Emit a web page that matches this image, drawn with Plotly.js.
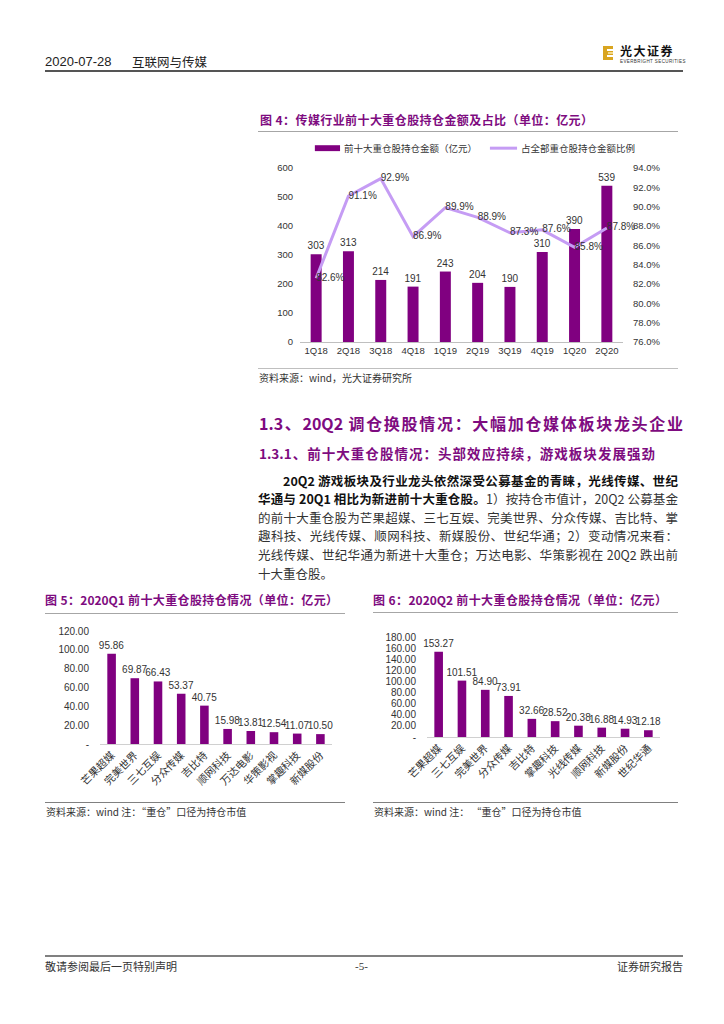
<!DOCTYPE html>
<html><head><meta charset="utf-8">
<script src="https://cdn.plot.ly/plotly-3.0.1.min.js"></script>
<style>
html,body{margin:0;padding:0;background:#fff;}
body{width:724px;height:1024px;position:relative;overflow:hidden;font-family:"Noto Sans CJK SC","Liberation Sans",sans-serif;color:#222;}
.a{position:absolute;white-space:nowrap;}
.j{text-align:justify;text-align-last:justify;}
.hl{position:absolute;}
.ftitle{font-size:12px;font-weight:bold;color:#7e0b80;line-height:12.5px;}
.src{font-size:10px;color:#333;line-height:10px;}
.para{position:absolute;left:258px;width:420px;font-size:12.5px;line-height:18.6px;color:#333;}
.para div{text-align:justify;text-align-last:justify;white-space:nowrap;height:18.6px;}
.para b{color:#111;}
</style></head><body>

<!-- header -->
<div class="a" style="left:45px;top:54px;font-size:13px;line-height:16px;color:#222;font-family:'Liberation Sans','Noto Sans CJK SC';">2020-07-28</div>
<div class="a" style="left:132px;top:54px;font-size:12.5px;line-height:16px;color:#222;">互联网与传媒</div>
<div class="hl" style="left:45px;top:70px;width:638px;height:1.5px;background:#555;"></div>
<svg class="a" style="left:603px;top:46px;" width="10" height="14" viewBox="0 0 10 14">
 <rect x="0" y="0" width="10" height="14" fill="#d9a520"/>
 <rect x="4" y="3" width="6" height="2" fill="#fff"/>
 <rect x="4" y="9" width="6" height="2" fill="#fff"/>
 <rect x="5" y="6" width="5" height="2" fill="#f3d98a"/>
</svg>
<div class="a" style="left:620px;top:45px;font-size:12px;line-height:12px;font-weight:bold;letter-spacing:1.5px;color:#111;">光大证券</div>
<div class="a" style="left:620px;top:59px;font-size:4.5px;line-height:5px;color:#333;letter-spacing:0.4px;font-family:'Liberation Sans';">EVERBRIGHT SECURITIES</div>

<!-- figure 4 -->
<div class="a ftitle j" style="left:260px;top:114px;width:333px;">图 4：传媒行业前十大重仓股持仓金额及占比（单位：亿元）</div>
<div class="hl" style="left:258px;top:131px;width:420px;height:1px;background:#a6a6a6;"></div>
<div id="fig4" class="a" style="left:250px;top:135px;width:430px;height:230px;"></div>
<div class="hl" style="left:258px;top:368px;width:420px;height:1px;background:#bfbfbf;"></div>
<div class="a src" style="left:259px;top:373px;">资料来源：wind，光大证券研究所</div>

<!-- section text -->
<div class="a j" style="left:259px;top:415px;width:424px;font-size:16px;line-height:16px;font-weight:bold;color:#7e0b80;">1.3、20Q2 调仓换股情况：大幅加仓媒体板块龙头企业</div>
<div class="a j" style="left:259px;top:446px;width:396px;font-size:13.5px;line-height:14px;font-weight:bold;color:#7e0b80;">1.3.1、前十大重仓股情况：头部效应持续，游戏板块发展强劲</div>
<div class="para" style="top:471.7px;">
 <div style="padding-left:25px;"><b>20Q2 游戏板块及行业龙头依然深受公募基金的青睐，光线传媒、世纪</b></div>
 <div><b>华通与 20Q1 相比为新进前十大重仓股。</b>1）按持仓市值计，20Q2 公募基金</div>
 <div>的前十大重仓股为芒果超媒、三七互娱、完美世界、分众传媒、吉比特、掌</div>
 <div>趣科技、光线传媒、顺网科技、新媒股份、世纪华通；2）变动情况来看：</div>
 <div>光线传媒、世纪华通为新进十大重仓；万达电影、华策影视在 20Q2 跌出前</div>
 <div style="text-align-last:left;">十大重仓股。</div>
</div>

<!-- figure 5 -->
<div class="a ftitle j" style="left:45px;top:594px;width:293px;">图 5：2020Q1 前十大重仓股持仓情况（单位：亿元）</div>
<div class="hl" style="left:45px;top:613px;width:300px;height:1px;background:#a6a6a6;"></div>
<div id="fig5" class="a" style="left:30px;top:615px;width:315px;height:185px;"></div>
<div class="hl" style="left:45px;top:802px;width:300px;height:1px;background:#808080;"></div>
<div class="a src" style="left:46px;top:807px;">资料来源：wind 注：“重仓”口径为持仓市值</div>

<!-- figure 6 -->
<div class="a ftitle j" style="left:373px;top:594px;width:294px;">图 6：2020Q2 前十大重仓股持仓情况（单位：亿元）</div>
<div class="hl" style="left:373px;top:612px;width:305px;height:1px;background:#a6a6a6;"></div>
<div id="fig6" class="a" style="left:360px;top:615px;width:320px;height:185px;"></div>
<div class="hl" style="left:373px;top:802px;width:305px;height:1px;background:#808080;"></div>
<div class="a src" style="left:374px;top:807px;">资料来源：wind 注： “重仓”口径为持仓市值</div>

<!-- footer -->
<div class="hl" style="left:45px;top:955px;width:638px;height:1.5px;background:#808080;"></div>
<div class="a" style="left:45px;top:960px;font-size:11px;line-height:12px;color:#333;">敬请参阅最后一页特别声明</div>
<div class="a" style="left:355px;top:960px;font-size:11px;line-height:12px;color:#333;font-family:'Liberation Serif';">-5-</div>
<div class="a" style="left:617px;top:960px;font-size:11px;line-height:12px;color:#333;">证券研究报告</div>

<script>
// ---------- data ----------
const quarters = ['1Q18','2Q18','3Q18','4Q18','1Q19','2Q19','3Q19','4Q19','1Q20','2Q20'];
const holdingAmount = [303,313,214,191,243,204,190,310,390,539];
const holdingShare = [82.6,91.1,92.9,86.9,89.9,88.9,87.3,87.6,85.8,87.8];
const amountName = '前十大重仓股持仓金额（亿元）';
const shareName = '占全部重仓股持仓金额比例';

const q1Stocks = ['芒果超媒','完美世界','三七互娱','分众传媒','吉比特','顺网科技','万达电影','华策影视','掌趣科技','新媒股份'];
const q1Values = [95.86,69.87,66.43,53.37,40.75,15.98,13.81,12.54,11.07,10.50];
const q1TickVals = [0,20,40,60,80,100,120];

const q2Stocks = ['芒果超媒','三七互娱','完美世界','分众传媒','吉比特','掌趣科技','光线传媒','顺网科技','新媒股份','世纪华通'];
const q2Values = [153.27,101.51,84.90,73.91,32.66,28.52,20.38,16.88,14.93,12.18];
const q2TickVals = [0,20,40,60,80,100,120,140,160,180];

// ---------- styles ----------
const PURPLE = '#800080';
const LAVENDER = '#c59cf4';
const FONT = '"Liberation Sans", Arial, "Noto Sans CJK SC", sans-serif';
const cfg = {staticPlot:true, displayModeBar:false};
const acct = v => v === 0 ? '-' : v.toFixed(2);

// ---------- figure 4 ----------
Plotly.newPlot('fig4', [
  {type:'bar', name:amountName, x:quarters, y:holdingAmount, marker:{color:PURPLE},
   text:holdingAmount.map(String), textposition:'outside', constraintext:'none', cliponaxis:false,
   textfont:{size:10, color:'#333', family:FONT}, yaxis:'y'},
  {type:'scatter', mode:'lines+text', name:shareName, x:quarters, y:holdingShare, yaxis:'y2',
   line:{color:LAVENDER, width:3}, text:holdingShare.map(v=>v.toFixed(1)+'%'),
   textposition:'middle right', cliponaxis:false, textfont:{size:10, color:'#333', family:FONT}}
], {
  width:430, height:230, margin:{l:50, r:57, t:33, b:23},
  paper_bgcolor:'rgba(0,0,0,0)', plot_bgcolor:'rgba(0,0,0,0)',
  font:{family:FONT, size:10, color:'#333'},
  bargap:0.66,
  showlegend:false,
  // legend drawn as paper-referenced swatches + labels (one row, like the reference)
  shapes:[
    {type:'rect', xref:'paper', yref:'paper', x0:0.046, x1:0.124, y0:1.097, y1:1.131, fillcolor:PURPLE, line:{width:0}},
    {type:'line', xref:'paper', yref:'paper', x0:0.588, x1:0.672, y0:1.114, y1:1.114, line:{color:LAVENDER, width:3}}
  ],
  annotations:[
    {xref:'paper', yref:'paper', x:0.13, y:1.114, xanchor:'left', yanchor:'middle', showarrow:false,
     text:amountName, font:{size:9.5, color:'#333', family:'"Noto Sans CJK SC", sans-serif'}},
    {xref:'paper', yref:'paper', x:0.677, y:1.114, xanchor:'left', yanchor:'middle', showarrow:false,
     text:shareName, font:{size:9.5, color:'#333', family:'"Noto Sans CJK SC", sans-serif'}}
  ],
  xaxis:{showgrid:false, showline:true, linecolor:'#bfbfbf', linewidth:1, ticks:'', tickfont:{size:9.5}, fixedrange:true},
  yaxis:{range:[0,600], dtick:100, showgrid:false, zeroline:false, showline:false, ticks:'', tickfont:{size:9.5}, ticklabelstandoff:6},
  yaxis2:{range:[76,94], dtick:2, overlaying:'y', side:'right', showgrid:false, zeroline:false, showline:false,
          ticks:'', tickformat:'.1f', ticksuffix:'%', tickfont:{size:9.5}, ticklabelstandoff:9}
}, cfg);

// ---------- figure 5 / 6 ----------
function stockBars(id, cats, vals, ticks, w, margin) {
  Plotly.newPlot(id, [{
    type:'bar', x:cats, y:vals, marker:{color:PURPLE},
    text:vals.map(v=>v.toFixed(2)), textposition:'outside', constraintext:'none', cliponaxis:false,
    textfont:{size:10, color:'#333', family:FONT}
  }], {
    width:w, height:185, margin:margin,
    paper_bgcolor:'rgba(0,0,0,0)', plot_bgcolor:'rgba(0,0,0,0)',
    font:{family:FONT, size:10, color:'#333'},
    bargap:0.63, showlegend:false,
    xaxis:{showgrid:false, showline:true, linecolor:'#d0d0d0', linewidth:1, ticks:'', tickangle:-45,
           tickfont:{size:10.5, family:'"Noto Sans CJK SC", sans-serif', color:'#333'}},
    yaxis:{range:[0, ticks[ticks.length-1]], tickvals:ticks, ticktext:ticks.map(acct), showgrid:false,
           zeroline:false, showline:false, ticks:'', tickfont:{size:10}, ticklabelstandoff:10}
  }, cfg);
}
stockBars('fig5', q1Stocks, q1Values, q1TickVals, 315, {l:70, r:13, t:16, b:56});
stockBars('fig6', q2Stocks, q2Values, q2TickVals, 320, {l:67, r:20, t:22, b:63});
</script>
</body></html>
